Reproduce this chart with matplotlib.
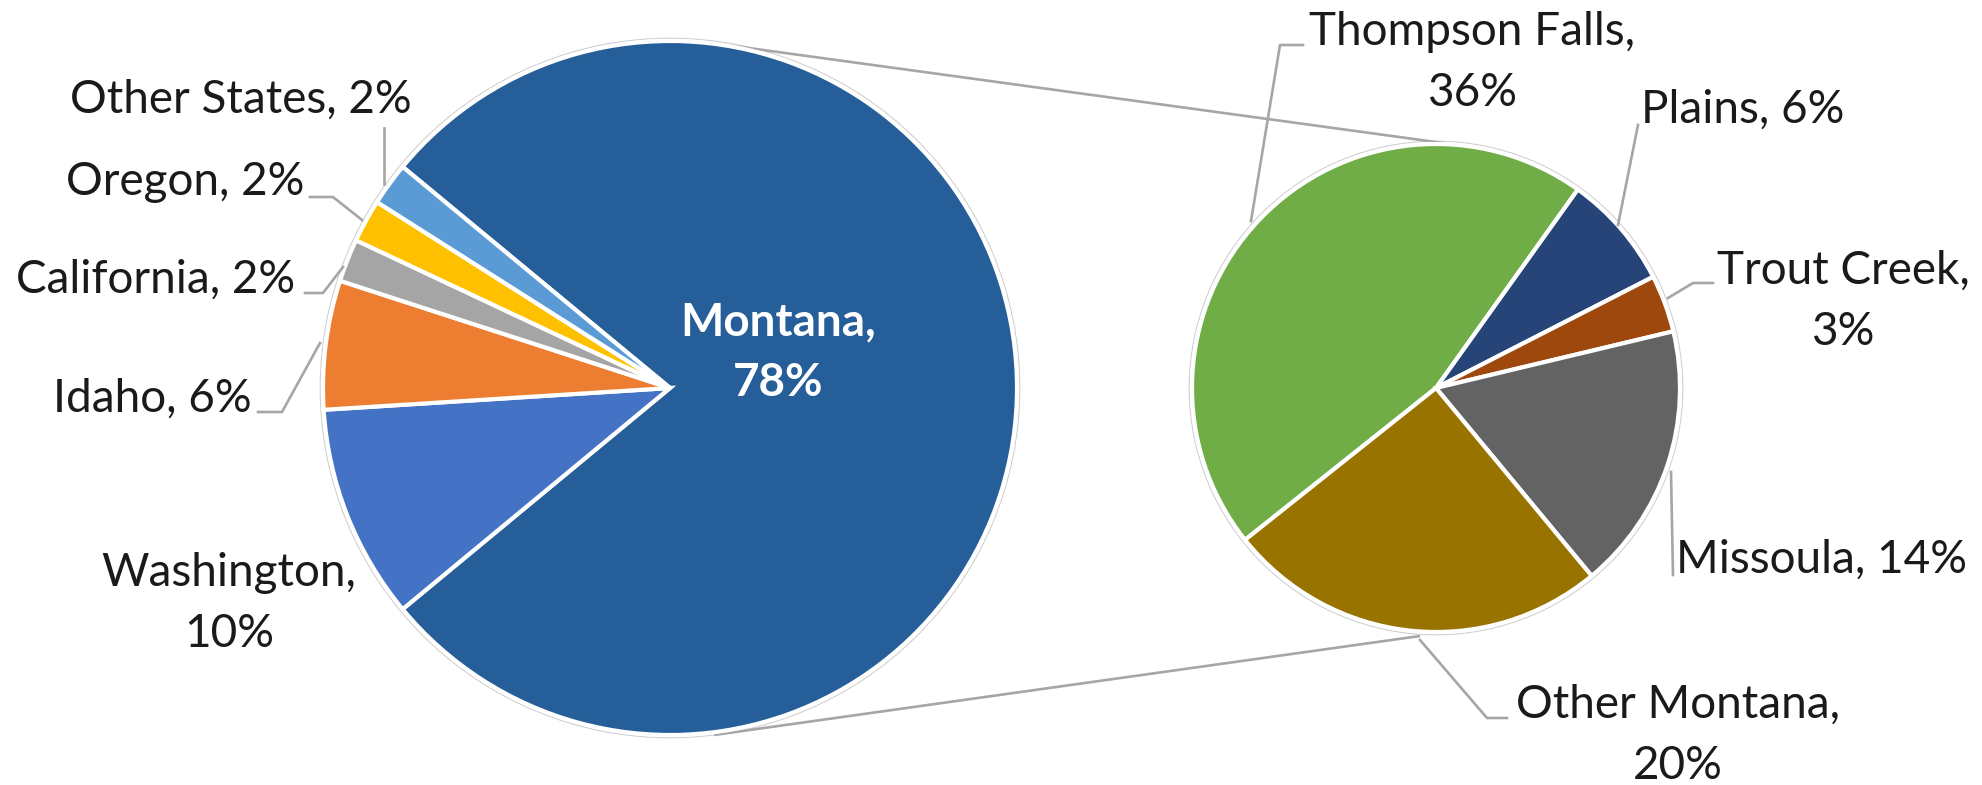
import matplotlib
matplotlib.use("Agg")
import matplotlib.pyplot as plt
from matplotlib.patches import Circle

# Share of visitors by home state (first pie)
states = ["Montana", "Washington", "Idaho", "California", "Oregon", "Other States"]
state_pct = [78, 10, 6, 2, 2, 2]
state_colors = ["#255E98", "#4472C4", "#ED7D31", "#A5A5A5", "#FFC000", "#5B9BD5"]

# Breakdown of the Montana share by town (second pie)
towns = ["Thompson Falls", "Plains", "Trout Creek", "Missoula", "Other Montana"]
town_pct = [36, 6, 3, 14, 20]
town_colors = ["#70AD47", "#264478", "#9E480E", "#636363", "#997300"]

W, H = 1982, 785
plt.rcParams["font.family"] = ["Lato", "DejaVu Sans"]

fig = plt.figure(figsize=(W / 100, H / 100), dpi=100)
ax = fig.add_axes([0, 0, 1, 1])


def Y(py):
    return H - py


main_c, main_r = (670, Y(388)), 347
sub_c, sub_r = (1436, Y(388)), 244

wp = dict(edgecolor="white", linewidth=3.0)
ax.pie(state_pct, colors=state_colors, startangle=140.4, counterclock=False,
       center=main_c, radius=main_r, wedgeprops=wp)
ax.pie(town_pct, colors=town_colors, startangle=218.5, counterclock=False,
       center=sub_c, radius=sub_r, wedgeprops=wp)

for c, r in [(main_c, main_r), (sub_c, sub_r)]:
    ax.add_patch(Circle(c, r + 2.8, fill=False, ec="#CFCFCF", lw=0.8, zorder=0))

# connector lines between the two pies (tangent to the first pie)
line_col = "#A6A6A6"
for pts in [[(712, 43), (1443, 143)], [(714, 735), (1420, 636)]]:
    ax.plot([p[0] for p in pts], [Y(p[1]) for p in pts], color=line_col,
            lw=1.9, zorder=0.5, solid_capstyle="butt")

# label layout: (x centre, first baseline y, wrap onto two lines, leader line)
label_layout = {
    "Other States": (241, 113, False, [(384, 128), (384, 184)]),
    "Oregon": (185, 195, False, [(310, 197), (333, 197), (362, 220)]),
    "California": (156, 293, False, [(305, 293), (323, 293), (343, 267)]),
    "Idaho": (152, 412, False, [(258, 412), (282, 412), (320, 343)]),
    "Washington": (229, 586, True, None),
    "Montana": (778, 335, True, None),
    "Thompson Falls": (1472, 45, True, [(1303, 45), (1280, 45), (1251, 221)]),
    "Plains": (1743, 123, False, [(1638, 125), (1618, 225)]),
    "Trout Creek": (1843, 284, True, [(1713, 283), (1693, 283), (1668, 298)]),
    "Missoula": (1822, 573, False, [(1671, 472), (1673, 575)]),
    "Other Montana": (1678, 718, True, [(1507, 718), (1487, 718), (1420, 640)]),
}
pitch = 61
fs = 33

for name, pct in list(zip(states, state_pct)) + list(zip(towns, town_pct)):
    x, yb, wrap, leader = label_layout[name]
    lines = [f"{name},", f"{pct}%"] if wrap else [f"{name}, {pct}%"]
    bold = name == "Montana"
    for i, s in enumerate(lines):
        ax.text(x, Y(yb + i * pitch), s, ha="center", va="baseline",
                fontsize=fs if bold else fs,
                color="white" if bold else "#1A1A1A",
                fontweight="bold" if bold else "normal", zorder=5)
    if leader:
        ax.plot([p[0] for p in leader], [Y(p[1]) for p in leader],
                color=line_col, lw=1.9, zorder=4)

ax.set_xlim(0, W)
ax.set_ylim(0, H)
ax.set_aspect("equal")
ax.axis("off")
fig.savefig("out.png", dpi=100, facecolor="white")
